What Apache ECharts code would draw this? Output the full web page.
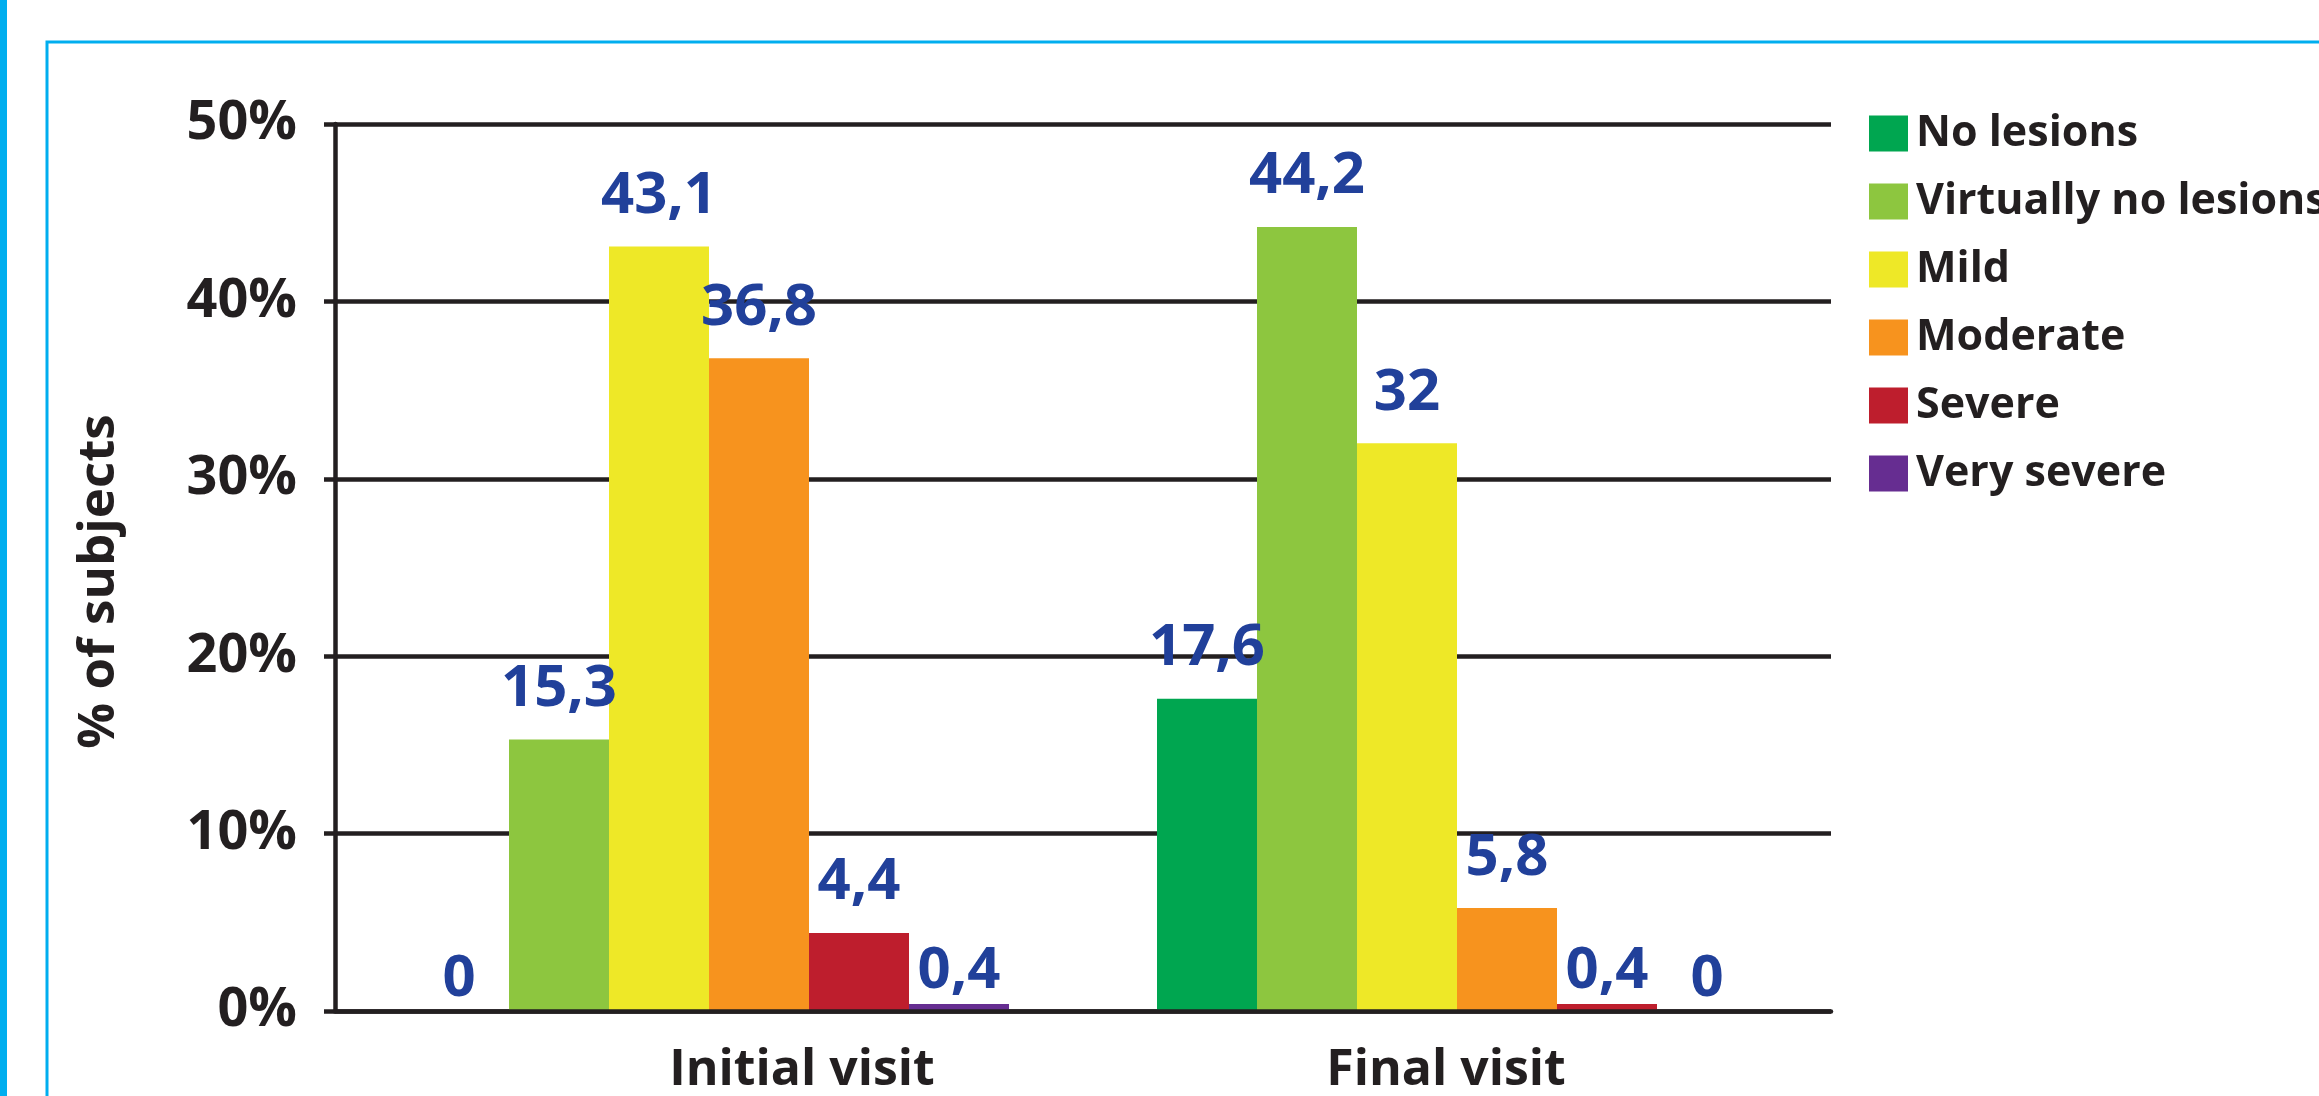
<!DOCTYPE html>
<html>
<head>
<meta charset="utf-8">
<script src="https://cdn.jsdelivr.net/npm/echarts@6/dist/echarts.min.js"></script>
<style>
  html, body { margin: 0; padding: 0; background: #ffffff; }
  #chart { width: 2319px; height: 1096px; }
</style>
</head>
<body>
<div id="chart"></div>
<script>
// Visits on the category axis
const visits = ['Initial visit', 'Final visit'];

// Share of subjects (%) per severity grade, [initial, final]
const noLesions = [0, 17.6];
const virtuallyNoLesions = [15.3, 44.2];
const mild = [43.1, 32];
const moderate = [36.8, 5.8];
const severe = [4.4, 0.4];
const verySevere = [0.4, 0];

// Severity grades in legend order
const gradeNames = ['No lesions', 'Virtually no lesions', 'Mild', 'Moderate', 'Severe', 'Very severe'];
const gradeValues = [noLesions, virtuallyNoLesions, mild, moderate, severe, verySevere];
const gradeColors = ['#00a650', '#8dc63f', '#eee827', '#f7931e', '#be1e2d', '#662d91'];

// Y axis ticks
const yMin = 0, yMax = 50, yStep = 10;

const FONT = "'Open Sans', sans-serif";
const INK = '#231f20';
const LABEL_BLUE = '#21409a';
const FRAME = '#00aeef';

const fmt = v => String(v).replace('.', ',');

const series = gradeNames.map((name, i) => ({
  name: name,
  type: 'bar',
  barWidth: 100,
  barGap: '0%',
  itemStyle: { color: gradeColors[i] },
  data: gradeValues[i].map(v => ({
    value: v,
    label: { distance: v < 1 ? 3 : 21 }
  })),
  label: {
    show: true,
    position: 'top',
    color: LABEL_BLUE,
    fontFamily: FONT,
    fontWeight: 'bold',
    fontSize: 58,
    formatter: p => fmt(p.value)
  }
}));

const chart = echarts.init(document.getElementById('chart'), null, { renderer: 'canvas' });

chart.setOption({
  backgroundColor: '#ffffff',
  animation: false,
  graphic: [
    { type: 'rect', z: -10, shape: { x: 0, y: 0, width: 7, height: 1096 }, style: { fill: FRAME } },
    { type: 'rect', z: -10, shape: { x: 47, y: 42, width: 2400, height: 1200 }, style: { fill: 'none', stroke: FRAME, lineWidth: 3 } }
  ],
  grid: { left: 335, right: 488, top: 124, bottom: 85, containLabel: false },
  legend: {
    orient: 'vertical',
    left: 1864,
    top: 107,
    itemWidth: 39,
    itemHeight: 36,
    itemGap: 25,
    icon: 'rect',
    selectedMode: false,
    data: gradeNames,
    textStyle: {
      color: INK,
      fontFamily: FONT,
      fontWeight: 'bold',
      fontSize: 43,
      padding: [0, 0, 0, 3]
    }
  },
  xAxis: {
    type: 'category',
    data: [
      { value: visits[0], textStyle: { padding: [0, 0, 0, 186] } },
      { value: visits[1], textStyle: { padding: [0, 22, 0, 0] } }
    ],
    axisLine: { show: true, lineStyle: { color: INK, width: 4.5 } },
    axisTick: { show: false },
    axisLabel: {
      color: INK,
      fontFamily: FONT,
      fontWeight: 'bold',
      fontSize: 50,
      margin: 35
    },
    z: 5
  },
  yAxis: {
    type: 'value',
    min: yMin,
    max: yMax,
    interval: yStep,
    name: '% of subjects',
    nameLocation: 'middle',
    nameGap: 210,
    nameTextStyle: {
      color: INK,
      fontFamily: FONT,
      fontWeight: 'bold',
      fontSize: 51,
      padding: [0, 28, 0, 0]
    },
    axisLine: { show: true, lineStyle: { color: INK, width: 4.5 } },
    axisTick: { show: true, length: 11, lineStyle: { color: INK, width: 4.5 } },
    splitLine: { show: true, lineStyle: { color: INK, width: 4.5 } },
    axisLabel: {
      color: INK,
      fontFamily: FONT,
      fontWeight: 'bold',
      fontSize: 54,
      margin: 38,
      formatter: v => v + '%'
    }
  },
  series: series
});
</script>
</body>
</html>
